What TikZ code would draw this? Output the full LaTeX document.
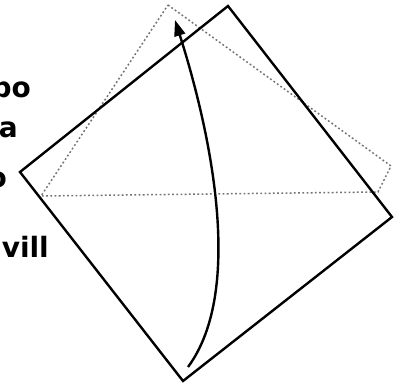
\documentclass[tikz,border=0pt]{standalone}
\usepackage{fontspec}
\setmainfont{DejaVu Sans}
\usetikzlibrary{arrows.meta}
\begin{document}
\begin{tikzpicture}[x=1pt,y=-1pt,
  solidsq/.style={line width=2.4pt,line join=miter},
  dotsq/.style={line width=1.5pt,black!55,dash pattern=on 1.8pt off 2.4pt},
  curvearrow/.style={line width=2.4pt,-{Triangle[length=16pt,width=11pt]}},
  cuttext/.style={anchor=base east,inner sep=0pt,font=\fontsize{28}{28}\selectfont\bfseries}]
\useasboundingbox (0,0) rectangle (409,388);
\clip (0,0) rectangle (409,388);
% dotted (folded) sheet
\coordinate (dt) at (168,5);
\coordinate (dr) at (391,166);
\coordinate (db) at (378,192);
\coordinate (dl) at (41,196);
\draw[dotsq] (dt) -- (dr) -- (db) -- (dl) -- cycle;
% solid square
\coordinate (st) at (228,6);
\coordinate (sr) at (392,217);
\coordinate (sb) at (183,381);
\coordinate (sl) at (20,172);
\draw[solidsq] (st) -- (sr) -- (sb) -- (sl) -- cycle;
% curved arrow
\coordinate (cs) at (188,367);
\coordinate (ce) at (175,20);
\draw[curvearrow] (cs) .. controls (245,290) and (210,130) .. (ce);
% cut-off text
\node[cuttext] (t1) at (31,97) {bo};
\node[cuttext] (t2) at (18,137) {a};
\node[cuttext] (t3) at (7,187) {o};
\node[cuttext] (t4) at (49,257) {vill};
\end{tikzpicture}
\end{document}
